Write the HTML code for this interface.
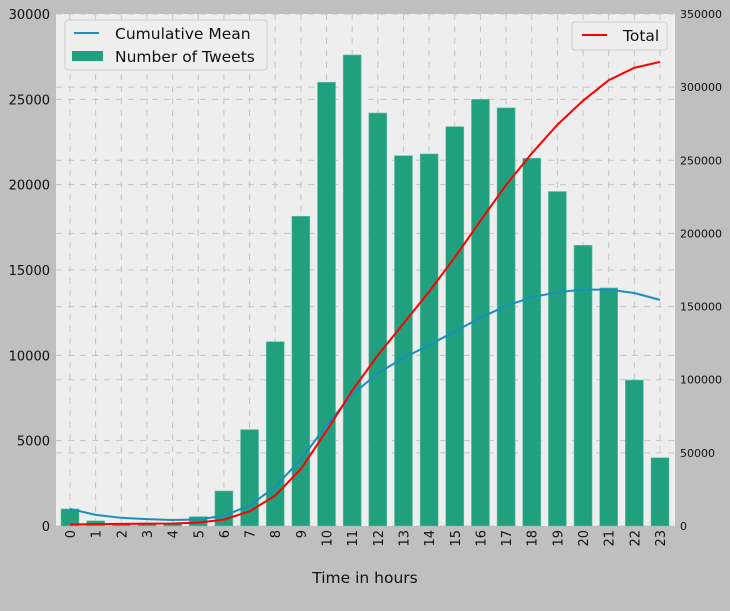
<!DOCTYPE html>
<html><head><meta charset="utf-8"><style>
body{margin:0;background:#bfbfbf;}
svg{display:block;font-family:"DejaVu Sans","Liberation Sans",sans-serif;}
</style></head><body>
<svg id="chart" width="730" height="611">
<rect x="0" y="0" width="730" height="611" fill="#bfbfbf"/>
<rect x="56" y="14" width="619" height="512" fill="#eeeeee"/>
<g id="grid"></g><g id="bars"></g><g id="lines"></g><g id="axes"></g>
<text x="365" y="583" text-anchor="middle" font-size="15.5" fill="#111">Time in hours</text>
<g>
<rect x="65" y="20" width="202" height="50" rx="3" fill="#eeeeee" stroke="#cccccc"/>
<line x1="74" y1="33" x2="99" y2="33" stroke="#188fbd" stroke-width="2"/>
<text x="115" y="39" font-size="15.5" fill="#111">Cumulative Mean</text>
<rect x="72" y="51" width="31" height="10" fill="#21a07f"/>
<text x="115" y="62" font-size="15.5" fill="#111">Number of Tweets</text>
</g>
<g>
<rect x="572" y="22" width="95" height="28" rx="3" fill="#eeeeee" stroke="#cccccc"/>
<line x1="582" y1="35" x2="607" y2="35" stroke="#ff0000" stroke-width="2"/>
<text x="623" y="41" font-size="15.5" fill="#111">Total</text>
</g>
</svg>
<script>
const hours=["0","1","2","3","4","5","6","7","8","9","10","11","12","13","14","15","16","17","18","19","20","21","22","23"];
const tweets=[1000,300,150,150,150,550,2050,5650,10800,18150,26000,27600,24200,21700,21800,23400,25000,24500,21550,19600,16450,13950,8550,4000];
const cumMean=[1000,650,480,400,350,380,600,1200,2300,3900,5900,7700,8950,9850,10600,11400,12200,12900,13400,13700,13850,13850,13650,13250];
const total=[1000,1300,1450,1600,1750,2300,4350,10000,20800,38950,64950,92550,116750,138450,160250,183650,208650,233150,254700,274300,290750,304700,313250,317250];
const leftTicks=[0,5000,10000,15000,20000,25000,30000];
const rightTicks=[0,50000,100000,150000,200000,250000,300000,350000];
const NS="http://www.w3.org/2000/svg";
const L=56,R=675,T=14,B=526;
const x0=70,x1=660;
const xs=i=>x0+(x1-x0)*i/(hours.length-1);
const yl=v=>B-(v/30000)*(B-T);
const yr=v=>B-(v/350000)*(B-T);
function mk(tag,attrs,parent){const e=document.createElementNS(NS,tag);for(const k in attrs)e.setAttribute(k,attrs[k]);parent.appendChild(e);return e;}
const g=document.getElementById('grid'),bg=document.getElementById('bars'),lg=document.getElementById('lines'),ax=document.getElementById('axes');
leftTicks.forEach(v=>{const e=mk('line',{x1:L,x2:R,y1:yl(v),y2:yl(v),stroke:'#c4c4c4','stroke-dasharray':'6,6'},g);


const t=mk('text',{x:50,y:yl(v)+5,'text-anchor':'end','font-size':13,fill:'#111'},ax);t.textContent=v;

});
rightTicks.forEach(v=>{const e=mk('line',{x1:L,x2:R,y1:yr(v),y2:yr(v),stroke:'#c4c4c4','stroke-dasharray':'6,6'},g);


const t=mk('text',{x:680,y:yr(v)+4,'font-size':11,fill:'#111'},ax);t.textContent=v;

});
hours.forEach((h,i)=>{const e=mk('line',{x1:xs(i),x2:xs(i),y1:T,y2:B,stroke:'#c4c4c4','stroke-dasharray':'6,6'},g);


const b=mk('rect',{x:xs(i)-9,y:yl(tweets[i]),width:18,height:B-yl(tweets[i]),fill:'#21a07f',stroke:'#6cc2a8','stroke-width':0.6},bg);


const t=mk('text',{x:0,y:0,'text-anchor':'end','font-size':13,fill:'#111',transform:`translate(${xs(i)+5},${B+4}) rotate(-90)`},ax);t.textContent=h;

});
const m=mk('polyline',{points:cumMean.map((v,i)=>xs(i)+','+yl(v)).join(' '),fill:'none',stroke:'#188fbd','stroke-width':2},lg);


const tl=mk('polyline',{points:total.map((v,i)=>xs(i)+','+yr(v)).join(' '),fill:'none',stroke:'#ff0000','stroke-width':2},lg);


</script>
</body></html>
